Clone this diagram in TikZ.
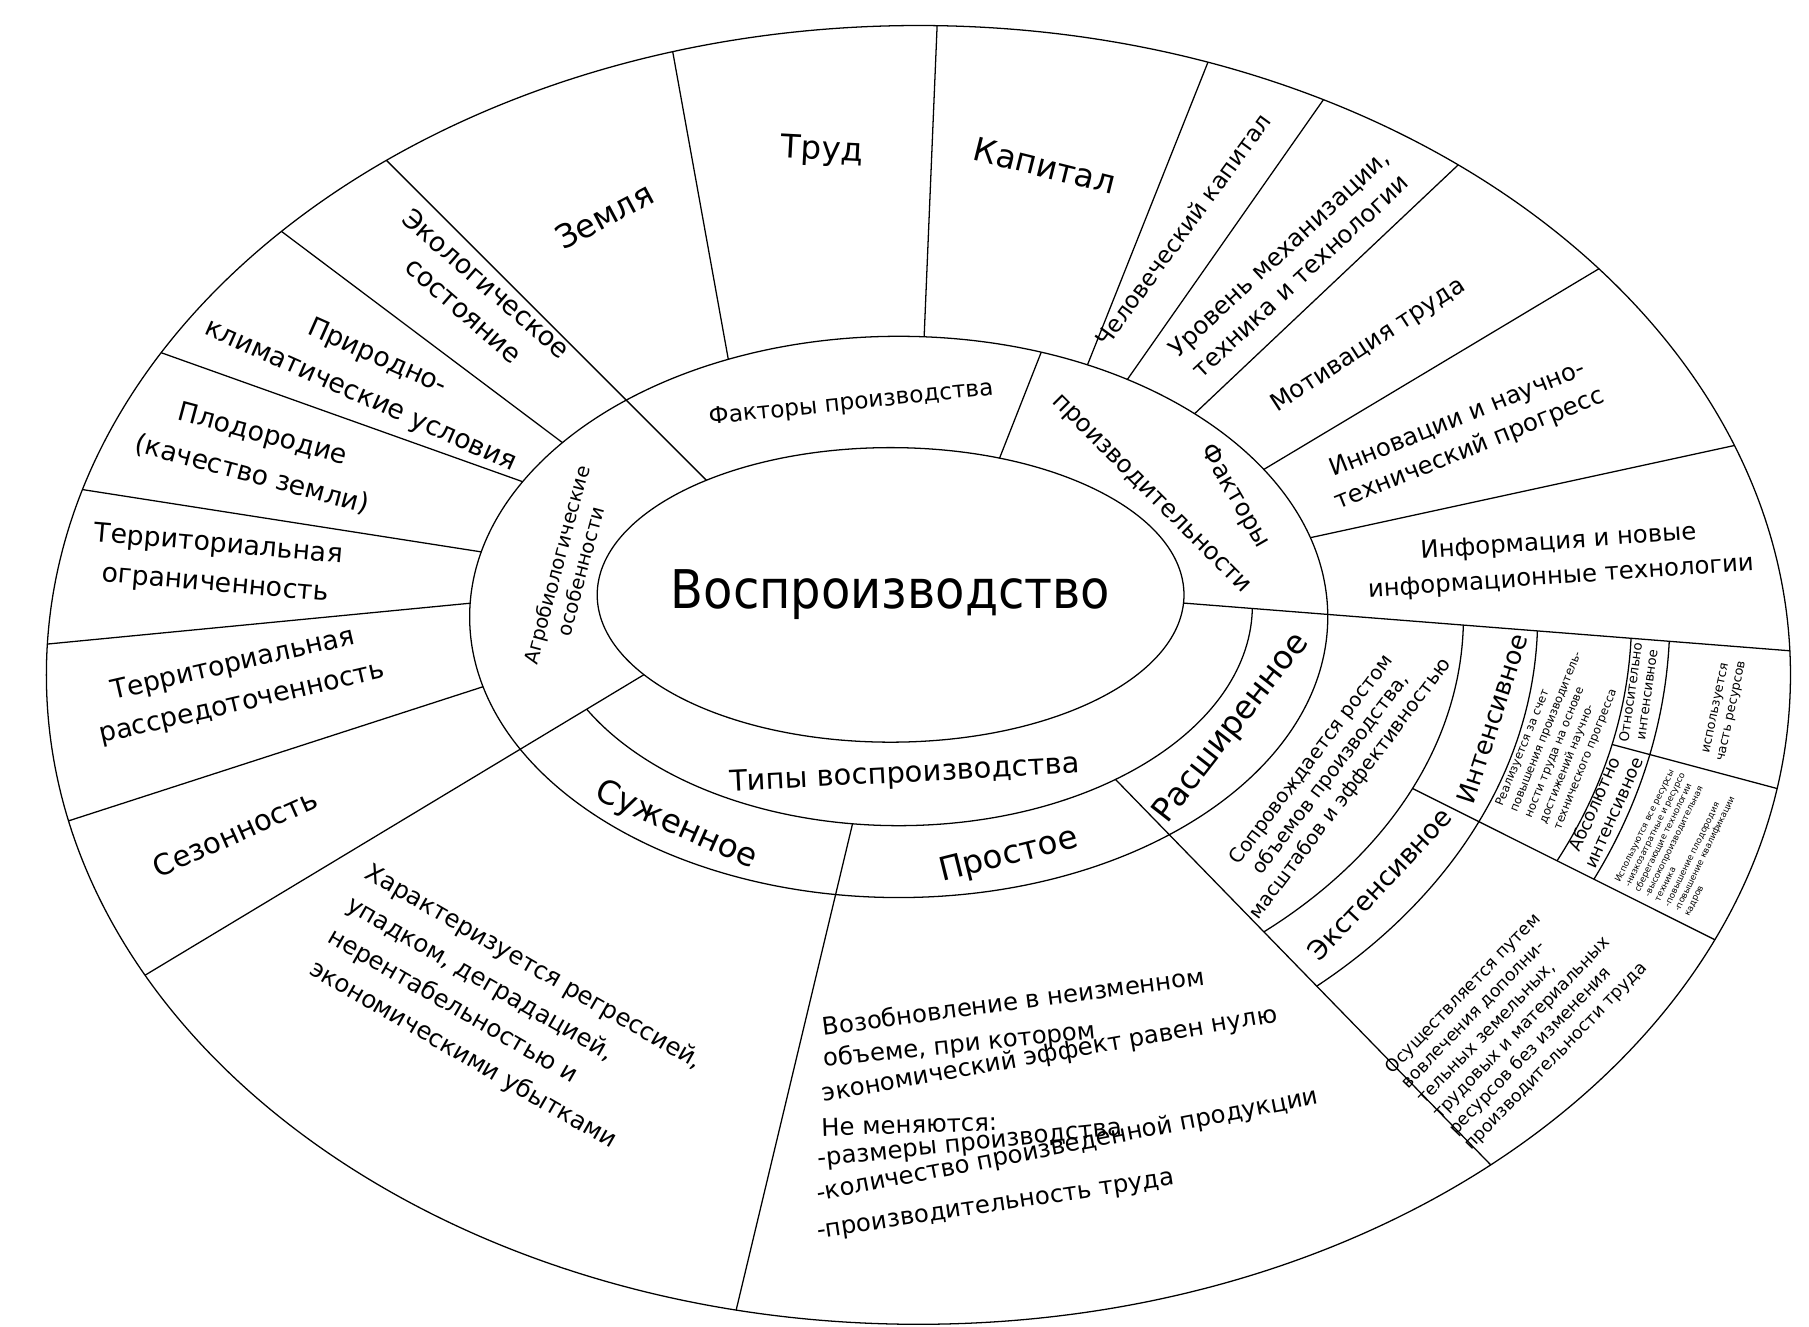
\documentclass[tikz,border=0pt]{standalone}
\usepackage{fontspec}
\setmainfont{DejaVu Sans}
\newfontfamily\condf{DejaVu Sans Condensed}
\usetikzlibrary{calc}
\newcommand{\fz}[2]{\fontsize{#1}{#2}\selectfont}
\begin{document}
\begin{tikzpicture}[x=1pt,y=-1pt,line width=1.1pt,
  txt/.style={align=center,inner sep=0pt},
  ln/.style={anchor=base west,inner sep=0pt,font=\fz{21}{25}}]
\fill[white] (0,0) rectangle (1560,1144);
\useasboundingbox (0,0) rectangle (1560,1144);
\begin{scope}
\clip (792,582) ellipse [x radius=752, y radius=560];
% M -> O separators
\foreach \t/\ox/\oy [count=\i] in {141.6/250/205, 151.2/147/307, 166.6/70/422, 177.2/45/555, 194.4/68/705,
   113.4/582/55, 86.6/808/25, 63.9/1028/88, 57.8/1123/112, 46.4/1228/170, 31.7/1335/258, 16.4/1478/388}{
  \coordinate (m\i) at ($(775,532)+(-\t:370 and 242)$);
  \draw (m\i) -- ($(m\i)!2!(\ox,\oy)$);
}
% I -> O separators
\coordinate (iL1) at (610,415);
\coordinate (oL1) at (343,148);
\draw ($(oL1)!1.05!(iL1)$) -- ($(iL1)!1.5!(oL1)$);
\coordinate (iL7) at (555,582);
\coordinate (oL7) at (135,835);
\draw ($(oL7)!1.05!(iL7)$) -- ($(iL7)!1.5!(oL7)$);
\coordinate (iS) at (1020,520);
\coordinate (oS) at (1541,561);
\draw ($(oS)!1.02!(iS)$) -- ($(iS)!1.2!(oS)$);
% I -> M
\coordinate (ma) at ($(775,532)+(-70.6:370 and 242)$);
\draw (ma) -- ($(ma)!1.5!(862,395)$);
% T -> O
\coordinate (t9) at ($(775,522)+(97.5:305 and 190)$);
\draw (t9) -- ($(t9)!1.3!(635,1129)$);
\coordinate (t10) at ($(775,522)+(52.2:305 and 190)$);
\draw (t10) -- ($(t10)!1.3!(1285,1004)$);
% T arc
\begin{scope}
\clip (oL7) -- (iL7) -- (iS) -- (1931,592) -- (1931,1300) -- (135,1300) -- cycle;
\draw (775,522) ellipse [x radius=305, y radius=190];
\end{scope}
% lower right region
\coordinate (dA) at ($(775,532)+(24.54:487 and 356)$);
\draw (dA) -- ($(dA)!2!(1518,830)$);
\coordinate (eA) at ($(775,532)+(13.3:632 and 478)$);
\draw (eA) -- ($(eA)!2!(1600,698)$);
\begin{scope}
\clip (t10) -- ($(t10)!3!(1285,1004)$) -- (1931,592) -- (iS) -- cycle;
\draw (775,532) ellipse [x radius=487, y radius=356];
\draw (775,532) ellipse [x radius=551, y radius=421];
\clip (dA) -- ($(dA)!3!(1518,830)$) -- (1931,592) -- (iS) -- cycle;
\draw (775,532) ellipse [x radius=632, y radius=478];
\draw (775,532) ellipse [x radius=665, y radius=522];
\end{scope}
\end{scope}
\fill[white] (768,513) ellipse [x radius=253, y radius=127];
\draw (768,513) ellipse [x radius=253, y radius=127];
\draw (775,532) ellipse [x radius=370, y radius=242];
\draw (792,582) ellipse [x radius=752, y radius=560];
% texts
\node[txt,font=\condf\fz{46}{50}] at (768,513) {Воспроизводство};
\node[txt,rotate=6,font=\fz{20}{24}] at (734,348) {Факторы производства};
\node[txt,rotate=75,font=\fz{17}{21}] at (490,490) {Агробиологические\\особенности};
\node[txt,rotate=-60,font=\fz{21}{25}] at (1065,428) {Факторы};
\node[txt,rotate=-45,font=\fz{21}{25}] at (992,427) {производительности};
\node[txt,rotate=3,font=\fz{25}{30}] at (780,668) {Типы воспроизводства};
\node[txt,rotate=-24,font=\fz{28}{32}] at (583,712) {Суженное};
\node[txt,rotate=14,font=\fz{28}{32}] at (870,738) {Простое};
\node[txt,rotate=52,font=\fz{28}{32}] at (1062,628) {Расширенное};
\node[txt,rotate=28,font=\fz{28}{32}] at (521,186) {Земля};
\node[txt,rotate=-3,font=\fz{28}{32}] at (709,130) {Труд};
\node[txt,rotate=-14,font=\fz{28}{32}] at (901,143) {Капитал};
\node[txt,rotate=54,font=\fz{20}{24}] at (1020,198) {Человеческий капитал};
\node[txt,rotate=43,font=\fz{21}{27}] at (1112,228) {Уровень механизации,\\техника и технологии};
\node[txt,rotate=33,font=\fz{21}{26}] at (1180,298) {Мотивация труда};
\node[txt,rotate=22,font=\fz{21}{28}] at (1262,375) {Инновации и научно-\\технический прогресс};
\node[txt,rotate=4,font=\fz{21}{30}] at (1345,483) {Информация и новые\\информационные технологии};
\node[txt,rotate=-41,font=\fz{23}{30}] at (410,256) {Экологическое\\состояние};
\node[txt,rotate=-24,font=\fz{23}{36}] at (318,325) {Природно-\\климатические условия};
\node[txt,rotate=-15,font=\fz{23}{36}] at (222,392) {Плодородие\\(качество земли)};
\node[txt,rotate=-5,font=\fz{23}{34}] at (187,487) {Территориальная\\ограниченность};
\node[txt,rotate=13,font=\fz{23}{34}] at (205,590) {Территориальная\\рассредоточенность};
\node[txt,rotate=24,font=\fz{25}{30}] at (203,718) {Сезонность};
\node[txt,rotate=-30,align=left,font=\fz{21}{32}] at (436,876) {Характеризуется регрессией,\\упадком, деградацией,\\нерентабельностью и\\экономическими убытками};
\node[ln,rotate=7.6] (v1) at (710,893) {Возобновление в неизменном};
\node[ln,rotate=6] (v2) at (710,920) {объеме, при котором};
\node[ln,rotate=10] (v3) at (710,950) {экономический эффект равен нулю};
\node[ln,rotate=2] (v4) at (708,980) {Не меняются:};
\node[ln,rotate=6] (v5) at (705,1006) {-размеры производства};
\node[ln,rotate=11] (v6) at (705,1036) {-количество произведенной продукции};
\node[ln,rotate=8.6] (v7) at (705,1068) {-производительность труда};
\node[txt,rotate=53,font=\fz{17}{21}] at (1148,668) {Сопровождается ростом\\объемов производства,\\масштабов и эффективностью};
\node[txt,rotate=72,font=\fz{22}{26}] at (1287,620) {Интенсивное};
\node[txt,rotate=47,font=\fz{23}{27}] at (1190,762) {Экстенсивное};
\node[txt,rotate=68,align=left,font=\fz{10}{13.5}] at (1346,636) {Реализуется за счет\\повышения производитель-\\ности труда  на основе\\достижений  научно-\\технического  прогресса};
\node[txt,rotate=82,font=\fz{11.5}{14}] at (1413,598) {Относительно\\интенсивное};
\node[txt,rotate=66,font=\fz{15}{18}] at (1383,697) {Абсолютно\\интенсивное};
\node[txt,rotate=78,font=\fz{11}{14}] at (1487,612) {используется\\часть ресурсов};
\node[txt,rotate=64,align=left,font=\fz{7.5}{9.5}] at (1449,726) {Используются все ресурсы\\-низкозатратные и ресурсо\\сберегающие технологии\\-высокопроизводительная\\техника\\-повышение плодородия\\-повышение квалификации\\кадров};
\node[txt,rotate=46,align=left,font=\fz{15}{19}] at (1308,878) {Осуществляется путем\\вовлечения дополни-\\тельных земельных,\\трудовых и материальных\\ресурсов без изменения\\производительности труда};
\end{tikzpicture}
\end{document}
